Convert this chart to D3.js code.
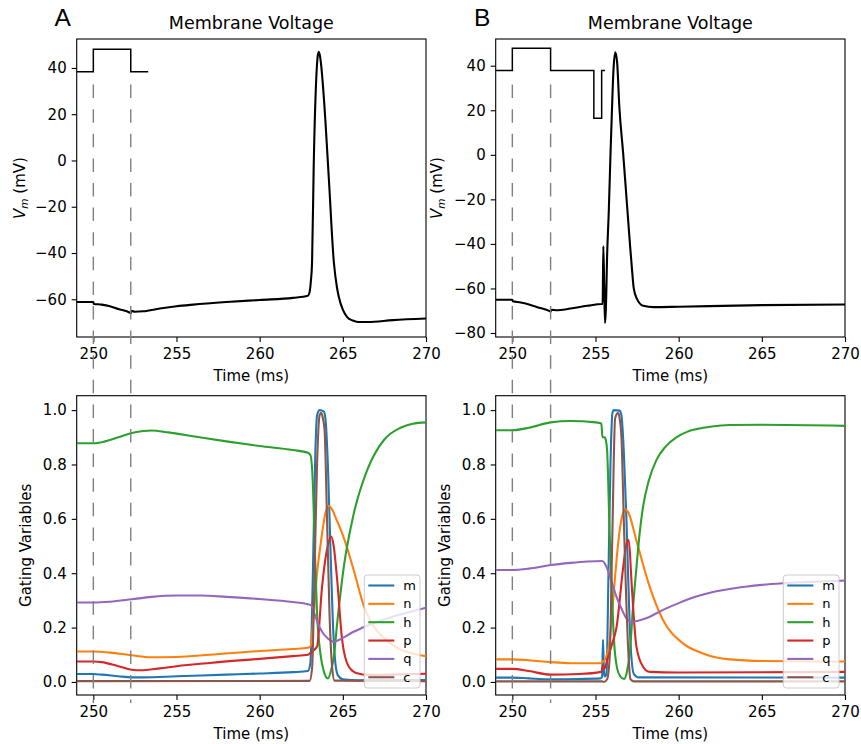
<!DOCTYPE html>
<html>
<head>
<meta charset="utf-8">
<script src="https://cdn.jsdelivr.net/npm/d3@7"></script>
<style>
  body { margin: 0; background: #fff; }
  svg text { font-family: "DejaVu Sans", sans-serif; fill: #000; }
</style>
</head>
<body>
<svg id="fig" width="861" height="744"></svg>
<script>
// ---- データ ----
const timeDomain = [249, 270];
const xTicks = [250, 255, 260, 265, 270];
const vmTicksA = [-60, -40, -20, 0, 20, 40];
const vmTicksB = [-80, -60, -40, -20, 0, 20, 40];
const gateTicks = [0, 0.2, 0.4, 0.6, 0.8, 1.0];
const gateNames = ['m', 'n', 'h', 'p', 'q', 'c'];
const gateColors = ['#1f77b4', '#ff7f0e', '#2ca02c', '#d62728', '#9467bd', '#8c564b'];

// 刺激のタイミング (破線)
const markerTimesA = [250, 252.25];
const markerTimesB = [250, 252.3];

// 刺激波形 (step)
const stimA = [[249, 38.3], [250, 48.1], [252.25, 38.3], [253.3, 38.3]];
const stimB = [[249, 37.9], [250, 47.8], [252.3, 37.9], [254.9, 16.4], [255.37, 37.9], [255.57, 37.9]];

// 膜電位
const vmA = [[249, -61.2], [250, -61.2], [250.03, -62], [250.5, -62.3], [251, -63], [251.5, -64.2],
  [252.2, -65.8], [252.25, -66], [252.3, -65], [252.5, -65.4], [253, -65.2], [254, -64], [255, -63],
  [256, -62.3], [258, -61.2], [260, -60.3], [262, -59.4], [262.9, -58.5], [263.0, -57], [263.08, -52],
  [263.15, -44], [263.25, -2], [263.4, 35], [263.48, 44.5], [263.55, 47], [263.63, 45], [263.7, 41],
  [263.86, 27], [264.16, -8], [264.46, -44], [264.65, -55], [264.76, -59], [265.0, -64.5], [265.26, -67.7],
  [265.6, -69.2], [265.9, -69.8], [266.5, -69.8], [268, -69], [270, -68.3]];
const vmB = [[249, -65.1], [250, -65.1], [250.03, -65.8], [250.5, -66.3], [251, -67.2], [251.5, -68.4],
  [252.25, -70.2], [252.3, -70.4], [252.35, -69.6], [252.7, -69.8], [253.5, -69], [254.5, -67.8],
  [255.38, -67], [255.43, -67], [255.47, -41], [255.52, -58], [255.57, -75.5], [255.62, -70], [255.7, -45],
  [255.8, -25], [255.9, 0], [255.98, 18], [256.08, 38], [256.19, 46], [256.3, 41.5], [256.43, 22],
  [256.67, 0], [256.87, -20], [257.07, -40], [257.2, -52], [257.3, -60], [257.5, -64.8], [257.87, -67.8],
  [258.5, -68.4], [260, -68.2], [265, -67.5], [270, -67.2]];

// ゲート変数 (A)
const gateA_m = [[249, .029], [250, .029], [250.5, .027], [251.5, .021], [252.3, .017], [253, .017], [255, .021],
  [258, .027], [260, .031], [262, .036], [262.9, .04], [263.05, .07], [263.2, .4], [263.35, .85], [263.45, .98],
  [263.6, 1.0], [263.85, .995], [263.95, .97], [264.1, .8], [264.25, .5], [264.4, .22], [264.55, .07],
  [264.7, .025], [265, .01], [266, .006], [270, .007]];
const gateA_n = [[249, .112], [250, .112], [251, .108], [252.3, .098], [253.5, .091], [255, .092], [257, .1],
  [260, .114], [262, .121], [262.9, .126], [263.05, .13], [263.25, .25], [263.45, .4], [263.65, .5],
  [263.95, .62], [264.15, .647], [264.35, .635], [264.6, .6], [265.06, .53], [265.66, .41], [266.26, .28],
  [266.8, .21], [267.5, .16], [268.3, .125], [269.2, .105], [270, .095]];
const gateA_h = [[249, .878], [250, .878], [250.7, .885], [251.5, .9], [252.25, .915], [253, .923], [253.5, .925],
  [254.5, .918], [256, .904], [258, .885], [260, .868], [262, .853], [262.9, .843], [263.05, .835],
  [263.19, .74], [263.31, .5], [263.45, .25], [263.65, .105], [263.86, .038], [264.1, .013], [264.3, .044],
  [264.46, .093], [264.66, .216], [265.06, .424], [265.66, .62], [266.47, .78], [267.47, .89], [268.47, .935],
  [269.2, .95], [270, .955]];
const gateA_p = [[249, .075], [250, .075], [250.5, .073], [251.5, .058], [252.3, .045], [252.8, .043], [254, .05],
  [255, .058], [257, .07], [260, .085], [262, .095], [262.9, .1], [263.1, .11], [263.45, .13], [263.75, .35],
  [264.04, .485], [264.3, .535], [264.45, .5], [264.66, .375], [264.96, .154], [265.36, .056], [265.86, .032],
  [266.5, .026], [268, .027], [270, .03]];
const gateA_q = [[249, .292], [250, .292], [251, .295], [252.3, .304], [253.5, .313], [255, .318], [256.5, .318],
  [258, .313], [260, .305], [262, .294], [262.9, .286], [263.1, .282], [263.3, .25], [263.5, .215], [263.8, .18],
  [264.1, .16], [264.45, .148], [265, .162], [265.5, .18], [266.2, .2], [267, .22], [268, .24], [269, .257],
  [270, .273]];
const gateA_c = [[249, .003], [263, .004], [263.15, .05], [263.3, .4], [263.45, .8], [263.6, .98], [263.7, .99],
  [263.8, .97], [263.9, .93], [264.05, .6], [264.2, .25], [264.35, .06], [264.5, .005], [270, .003]];

// ゲート変数 (B)
const gateB_m = [[249, .016], [250, .016], [251, .013], [252.3, .01], [254, .011], [255.3, .013], [255.4, .02],
  [255.45, .155], [255.5, .05], [255.55, .02], [255.66, .03], [255.78, .4], [255.9, .8], [256.02, .99],
  [256.1, 1.0], [256.45, .998], [256.56, .98], [256.7, .85], [256.86, .6], [257.06, .2], [257.3, .03],
  [257.6, .017], [270, .016]];
const gateB_n = [[249, .083], [250, .083], [251, .08], [252.3, .073], [253.5, .069], [255.35, .069], [255.45, .075],
  [255.6, .085], [255.8, .13], [256, .25], [256.16, .375], [256.46, .56], [256.65, .62], [256.8, .635],
  [257, .62], [257.46, .52], [258.26, .35], [259.06, .228], [260.26, .142], [261.46, .105], [263.06, .083],
  [265.06, .077], [270, .075]];
const gateB_h = [[249, .926], [250, .926], [251, .935], [252.3, .955], [253.5, .96], [255, .955], [255.35, .951],
  [255.42, .9], [255.55, .9], [255.62, .89], [255.7, .85], [255.85, .55], [256, .3], [256.15, .12],
  [256.3, .05], [256.5, .02], [256.72, .011], [256.9, .04], [257.06, .105], [257.25, .27], [257.46, .42],
  [257.66, .55], [257.86, .645], [258.2, .74], [258.66, .816], [259.2, .865], [259.86, .9], [260.5, .92],
  [261.06, .93], [262, .94], [263.06, .945], [265, .946], [270, .942]];
const gateB_p = [[249, .048], [250, .048], [251, .04], [252.3, .027], [254, .029], [255.35, .037], [255.45, .06],
  [255.55, .05], [255.7, .08], [256, .14], [256.26, .2], [256.66, .42], [256.85, .505], [257, .522],
  [257.16, .375], [257.3, .24], [257.46, .13], [257.86, .056], [258.26, .037], [260, .035], [270, .037]];
const gateB_q = [[249, .412], [250, .412], [251, .417], [252.3, .43], [253.5, .438], [254.5, .443], [255.4, .445],
  [255.66, .424], [255.96, .37], [256.26, .314], [256.56, .27], [256.86, .234], [257.16, .222], [257.5, .224],
  [258, .233], [259.06, .265], [260, .29], [261.06, .314], [262, .33], [263.06, .342], [264, .35],
  [265, .357], [266.26, .363], [267.5, .367], [269.6, .372], [270, .373]];
const gateB_c = [[249, .002], [255.4, .002], [255.5, .0], [255.7, .01], [255.86, .1], [256, .5], [256.18, .97],
  [256.36, .99], [256.45, .97], [256.56, .9], [256.7, .6], [256.85, .3], [257, .08], [257.1, .01],
  [257.3, .002], [270, .002]];

// ---- レイアウト ----
const W = 861, H = 744;
const topBox = { top: 39, bottom: 337 };
const botBox = { top: 395.7, bottom: 695 };
const gateDomain = [-0.048, 1.053];

const panels = [
  {
    letter: 'A', left: 76.7, right: 426, letterX: 54.5,
    vm: vmA, stim: stimA, vmDomain: [-76.3, 52.5], vmTicks: vmTicksA,
    markers: markerTimesA,
    gates: [gateA_m, gateA_n, gateA_h, gateA_p, gateA_q, gateA_c],
    vmLabelX: 25, gateLabelX: 30.5
  },
  {
    letter: 'B', left: 495.7, right: 845, letterX: 474,
    vm: vmB, stim: stimB, vmDomain: [-81.8, 52], vmTicks: vmTicksB,
    markers: markerTimesB,
    gates: [gateB_m, gateB_n, gateB_h, gateB_p, gateB_q, gateB_c],
    vmLabelX: 442, gateLabelX: 449.5
  }
];

const svg = d3.select('#fig');
svg.append('rect').attr('width', W).attr('height', H).attr('fill', '#fff');

/**
 * 枠・目盛り・軸ラベルを描く
 */
function drawFrame(g, x, y, box, yTicks, yFmt, clipId) {
  g.append('clipPath').attr('id', clipId)
    .append('rect')
    .attr('x', x.range()[0]).attr('y', box.top)
    .attr('width', x.range()[1] - x.range()[0])
    .attr('height', box.bottom - box.top);

  const ax = g.append('g')
    .attr('transform', `translate(0,${box.bottom})`)
    .call(d3.axisBottom(x).tickValues(xTicks).tickSize(5).tickPadding(6.5).tickSizeOuter(0));
  ax.select('.domain').remove();
  ax.attr('font-size', 15);

  const ay = g.append('g')
    .attr('transform', `translate(${x.range()[0]},0)`)
    .call(d3.axisLeft(y).tickValues(yTicks).tickFormat(yFmt).tickSize(5).tickPadding(5).tickSizeOuter(0));
  ay.select('.domain').remove();
  ay.attr('font-size', 15);

  g.selectAll('.tick line').attr('stroke-width', 1.1);

  g.append('rect')
    .attr('x', x.range()[0]).attr('y', box.top)
    .attr('width', x.range()[1] - x.range()[0])
    .attr('height', box.bottom - box.top)
    .attr('fill', 'none').attr('stroke', '#000').attr('stroke-width', 1.1);

  g.append('text')
    .attr('x', (x.range()[0] + x.range()[1]) / 2)
    .attr('y', box.bottom + 43.5)
    .attr('text-anchor', 'middle')
    .attr('font-size', 15)
    .text('Time (ms)');
}

panels.forEach((p, pi) => {
  const g = svg.append('g').attr('class', `panel-${p.letter}`);
  const x = d3.scaleLinear().domain(timeDomain).range([p.left, p.right]);
  const yVm = d3.scaleLinear().domain(p.vmDomain).range([topBox.bottom, topBox.top]);
  const yGate = d3.scaleLinear().domain(gateDomain).range([botBox.bottom, botBox.top]);

  // パネル記号とタイトル
  g.append('text')
    .attr('x', p.letterX).attr('y', 26)
    .style('font-family', '"Liberation Sans", Arial, sans-serif')
    .attr('font-size', 24.5)
    .text(p.letter);
  g.append('text')
    .attr('x', (p.left + p.right) / 2).attr('y', 29.3)
    .attr('text-anchor', 'middle')
    .attr('font-size', 17.5)
    .text('Membrane Voltage');

  // ---- 上段: 膜電位 ----
  const clipTop = `clip-top-${pi}`;
  drawFrame(g, x, yVm, topBox, p.vmTicks, d3.format('d'), clipTop);

  const vmLabel = g.append('text')
    .attr('transform', `translate(${p.vmLabelX},${(topBox.top + topBox.bottom) / 2}) rotate(-90)`)
    .attr('text-anchor', 'middle')
    .attr('font-size', 15);
  vmLabel.append('tspan').style('font-style', 'italic').text('V');
  vmLabel.append('tspan').style('font-style', 'italic').attr('font-size', 10.5).attr('dy', '0.3em').text('m');
  vmLabel.append('tspan').attr('dy', '-0.2em').text(' (mV)');

  const plotTop = g.append('g').attr('clip-path', `url(#${clipTop})`);
  plotTop.append('path')
    .datum(p.stim)
    .attr('fill', 'none').attr('stroke', '#000').attr('stroke-width', 1.5)
    .attr('d', d3.line().x(d => x(d[0])).y(d => yVm(d[1])).curve(d3.curveStepAfter));
  plotTop.append('path')
    .datum(p.vm)
    .attr('fill', 'none').attr('stroke', '#000').attr('stroke-width', 2.1)
    .attr('stroke-linejoin', 'round')
    .attr('d', d3.line().x(d => x(d[0])).y(d => yVm(d[1])).curve(d3.curveMonotoneX));

  // ---- 下段: ゲート変数 ----
  const clipBot = `clip-bot-${pi}`;
  drawFrame(g, x, yGate, botBox, gateTicks, d3.format('.1f'), clipBot);

  g.append('text')
    .attr('transform', `translate(${p.gateLabelX},${(botBox.top + botBox.bottom) / 2}) rotate(-90)`)
    .attr('text-anchor', 'middle')
    .attr('font-size', 15)
    .text('Gating Variables');

  const plotBot = g.append('g').attr('clip-path', `url(#${clipBot})`);
  const gateLine = d3.line().x(d => x(d[0])).y(d => yGate(d[1])).curve(d3.curveMonotoneX);
  plotBot.selectAll('.gate')
    .data(p.gates)
    .enter()
    .append('path')
    .attr('class', 'gate')
    .attr('fill', 'none')
    .attr('stroke', (d, i) => gateColors[i])
    .attr('stroke-width', 2.1)
    .attr('stroke-linejoin', 'round')
    .attr('d', gateLine);

  // 刺激タイミングの破線 (上段から下段まで)
  g.selectAll('.marker')
    .data(p.markers)
    .enter()
    .append('line')
    .attr('class', 'marker')
    .attr('x1', d => x(d)).attr('x2', d => x(d))
    .attr('y1', 84.6).attr('y2', 703)
    .attr('stroke', '#808080').attr('stroke-width', 1.4)
    .attr('stroke-dasharray', '13.5,11.1');

  // 凡例
  const lg = g.append('g').attr('transform', `translate(${p.right - 61.7},575)`);
  lg.append('rect')
    .attr('width', 55.7).attr('height', 113).attr('rx', 3)
    .attr('fill', '#fff').attr('fill-opacity', 0.8)
    .attr('stroke', '#cccccc').attr('stroke-width', 1);
  const rows = lg.selectAll('.lrow')
    .data(gateNames)
    .enter()
    .append('g')
    .attr('class', 'lrow')
    .attr('transform', (d, i) => `translate(0,${10.5 + i * 18.35})`);
  rows.append('line')
    .attr('x1', 4).attr('x2', 30)
    .attr('stroke', (d, i) => gateColors[i]).attr('stroke-width', 2.1);
  rows.append('text')
    .attr('x', 39).attr('dy', '0.35em')
    .attr('font-size', 13)
    .text(d => d);
});
</script>
</body>
</html>
